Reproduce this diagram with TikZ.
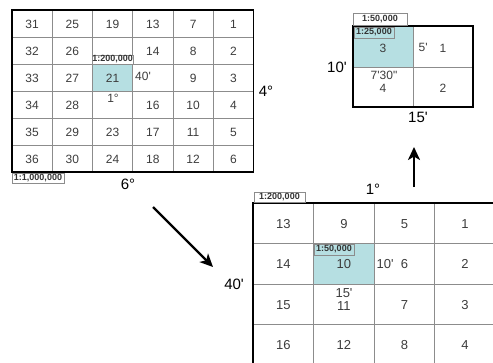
\documentclass[tikz,border=0pt]{standalone}
\usepackage{fontspec}
\setmainfont{Liberation Sans}
\usetikzlibrary{arrows.meta}

\definecolor{sheet}{RGB}{182,223,226}
\definecolor{cellink}{RGB}{60,60,60}
\definecolor{rule}{RGB}{140,140,140}

\tikzset{
  frame/.style={draw=black, line width=1.4pt},
  inner/.style={draw=rule, line width=0.8pt},
  numA/.style={font=\fontsize{12}{12}\selectfont, text=cellink, inner sep=0pt},
  numB/.style={font=\fontsize{13}{13}\selectfont, text=cellink, inner sep=0pt},
  biglbl/.style={font=\fontsize{15}{15}\selectfont, inner sep=0pt},
  scalebox/.style={draw=rule, line width=0.7pt, fill=white, inner sep=0pt,
    font=\fontsize{9}{9}\selectfont\bfseries, text=black!80},
  inset/.style={scalebox, fill=none},
  bigarrow/.style={line width=2.4pt, -{Stealth[length=13pt,width=12pt,inset=3.5pt]}},
}

\begin{document}
\begin{tikzpicture}[x=1pt,y=-1pt]
\useasboundingbox (0,0) rectangle (493,362);
\clip (0,0) rectangle (493,362);

% ---------- 1:1,000,000 sheet: 6 x 6 sheets of 1:200,000 ----------
\fill[sheet] (92.5,64) rectangle (132.75,91);
\foreach \i in {1,...,5}{
  \draw[inner] ({12+40.25*\i},10) -- ({12+40.25*\i},172);
  \draw[inner] (12,{10+27*\i}) -- (253.5,{10+27*\i});
}
\draw[frame] (12,10) rectangle (253.5,172);
\foreach \c in {0,...,5}{
  \foreach \r in {0,...,5}{
    \pgfmathtruncatemacro\n{(5-\c)*6+\r+1}
    \ifnum\n=15 \else\ifnum\n=20 \else\ifnum\n=22 \else
      \node[numA] (a\n) at ({12+40.25*(\c+0.5)},{10+27*(\r+0.5)+0.5}) {\n};
    \fi\fi\fi
  }
}
\node[scalebox, minimum width=40.25pt, minimum height=9pt] (a-s200) at (112.6,59.5) {1:200,000};
\node[numA, anchor=west] (a-lon) at (135,76) {40\textquotesingle};
\node[numA] (a-lat) at (113,98.5) {1°};
\node[scalebox, minimum width=52pt, minimum height=10pt] (a-s1m) at (38,178) {1:1,000,000};
\node[biglbl] (a-w) at (128,184) {6°};
\node[biglbl] (a-h) at (266,91.5) {4°};

\coordinate (arr1s) at (153,207);
\coordinate (arr1e) at (213,267);
\draw[bigarrow] (arr1s) -- (arr1e);

% ---------- 1:200,000 sheet: 4 x 4 sheets of 1:50,000 ----------
\fill[sheet] (313.6,243.5) rectangle (374.2,284);
\foreach \i in {1,...,3}{
  \draw[inner] ({253+60.6*\i},203) -- ({253+60.6*\i},370);
  \draw[inner] (253,{203+40.5*\i}) -- (500,{203+40.5*\i});
}
\draw[frame] (253,370) -- (253,203) -- (500,203);
\foreach \c in {0,...,3}{
  \foreach \r in {0,...,3}{
    \pgfmathtruncatemacro\n{(3-\c)*4+\r+1}
    \ifnum\n=11
      \node[numB] (b\n) at ({253+60.6*(\c+0.5)},306.5) {\n};
    \else
      \node[numB] (b\n) at ({253+60.6*(\c+0.5)},{203+40.5*(\r+0.5)+0.5}) {\n};
    \fi
  }
}
\node[inset, minimum width=40pt, minimum height=11pt] (b-s50) at (334,249.5) {1:50,000};
\node[scalebox, minimum width=51pt, minimum height=10pt] (b-s200) at (279.5,197) {1:200,000};
\node[numB, anchor=west] (b-lon) at (376.5,264) {10\textquotesingle};
\node[numB] (b-lat) at (344,293) {15\textquotesingle};
\node[biglbl] (b-w) at (373,189) {1°};
\node[biglbl, anchor=east] (b-h) at (244,284) {40\textquotesingle};

\coordinate (arr2s) at (414,187);
\coordinate (arr2e) at (414,147);
\draw[bigarrow] (arr2s) -- (arr2e);

% ---------- 1:50,000 sheet: 2 x 2 sheets of 1:25,000 ----------
\fill[sheet] (353,26) rectangle (413.5,67);
\draw[inner] (413.5,26) -- (413.5,107);
\draw[inner] (353,67) -- (473,67);
\draw[frame] (353,26) rectangle (473,107);
\node[numA] (c3) at (383,48.5) {3};
\node[numA] (c1) at (443,48.5) {1};
\node[numA] (c4) at (383,88.5) {4};
\node[numA] (c2) at (443,88.5) {2};
\node[numA, anchor=west] (c-lon) at (418.5,47.5) {5\textquotesingle};
\node[numA] (c-lat) at (384,75) {7\textquotesingle 30\textquotedbl};
\node[scalebox, minimum width=54pt, minimum height=12.5pt] (c-s50) at (380,19.5) {1:50,000};
\node[inset, minimum width=40pt, minimum height=11pt] (c-s25) at (374,32.5) {1:25,000};
\node[biglbl] (c-h) at (337,67) {10\textquotesingle};
\node[biglbl] (c-w) at (418,117.5) {15\textquotesingle};
\end{tikzpicture}
\end{document}
